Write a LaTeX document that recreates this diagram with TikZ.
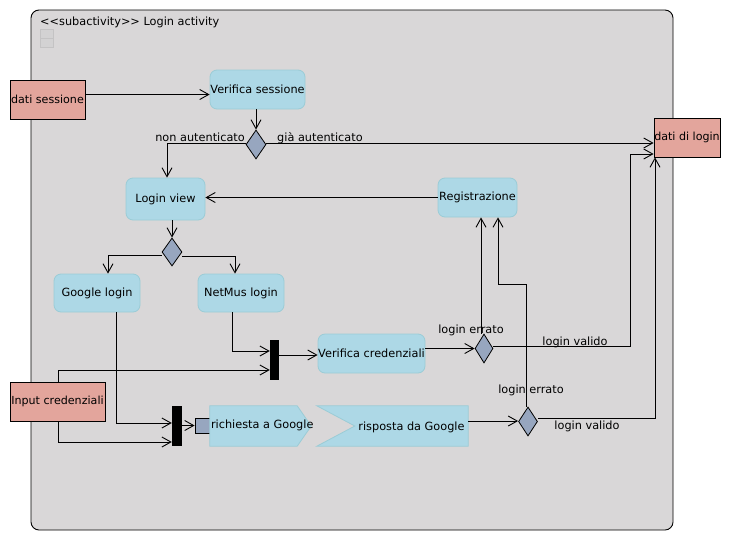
\documentclass[tikz,border=0pt]{standalone}
\usepackage{fontspec}
\setmainfont{DejaVu Sans}
\usetikzlibrary{arrows.meta,shapes.geometric,calc}
\definecolor{framebg}{RGB}{217,215,216}
\definecolor{salmon}{RGB}{227,165,156}
\definecolor{actfill}{RGB}{173,216,230}
\definecolor{actborder}{RGB}{155,204,214}
\definecolor{decfill}{RGB}{151,166,191}
\definecolor{tinyfill}{RGB}{211,210,211}
\definecolor{tinyborder}{RGB}{196,195,196}
\begin{document}
\begin{tikzpicture}[x=1pt,y=-1pt,
  font=\fontsize{11.3}{13}\selectfont,
  obj/.style={rectangle, draw=black, line width=0.8pt, fill=salmon, inner sep=0pt, font=\fontsize{11.1}{13}\selectfont},
  act/.style={rectangle, rounded corners=7pt, draw=actborder, line width=0.8pt, fill=actfill, inner sep=0pt},
  dec/.style={diamond, draw=black, line width=0.8pt, fill=decfill, inner sep=0pt},
  syncbar/.style={rectangle, fill=black, draw=none, inner sep=0pt},
  pinbox/.style={rectangle, draw=black, line width=0.8pt, fill=decfill, inner sep=0pt, minimum width=15pt, minimum height=15pt},
  sig/.style={draw=actborder, line width=0.8pt, fill=actfill},
  hidden/.style={rectangle, draw=none, inner sep=0pt},
  lbl/.style={inner sep=0pt},
  arr/.style={draw=black, line width=0.9pt, -{Straight Barb[length=9pt,width=10pt]}},
  tiny/.style={draw=tinyborder, fill=tinyfill, line width=0.6pt}
]
\useasboundingbox (0,0) rectangle (738,541);
% frame
\draw[fill=framebg, draw=black, line width=0.9pt, rounded corners=8pt] (31,10) rectangle (673,530);
\node[lbl, anchor=base west] (title) at (40,25.5) {<{}<subactivity>{}> Login activity};
\draw[tiny] (40,29) rectangle (53,38);
\draw[tiny] (40,38) rectangle (53,47);

% nodes
\node[obj, minimum width=75pt, minimum height=39pt] (ds) at (47.5,99.5) {dati sessione};
\node[act, minimum width=95pt, minimum height=39pt] (vs) at (257.5,89.5) {Verifica sessione};
\node[dec, minimum width=20pt, minimum height=29pt] (d1) at (256,144.5) {};
\node[obj, minimum width=66pt, minimum height=39pt] (dl) at (687,137.5) {dati di login};
\node[act, minimum width=79pt, minimum height=42pt] (lv) at (165.5,199) {Login view};
\node[act, minimum width=79pt, minimum height=39pt] (reg) at (477.5,197.5) {Registrazione};
\node[dec, minimum width=20pt, minimum height=28pt] (d2) at (172,252) {};
\node[act, minimum width=86pt, minimum height=38pt] (gl) at (97,293) {Google login};
\node[act, minimum width=86pt, minimum height=38pt] (nm) at (241,293) {NetMus login};
\node[syncbar, minimum width=9pt, minimum height=40pt] (b1) at (274.5,360) {};
\node[obj, minimum width=95pt, minimum height=39pt] (ic) at (57.5,401.5) {Input credenziali};
\node[act, minimum width=107pt, minimum height=39pt] (vc) at (371.5,353.5) {Verifica credenziali};
\node[dec, minimum width=18pt, minimum height=29pt] (d3) at (484,348.5) {};
\node[syncbar, minimum width=10pt, minimum height=40pt] (b2) at (177,426) {};
\node[pinbox] (pin) at (202.5,425.5) {};
% send signal
\node[hidden, minimum width=101pt, minimum height=40pt] (rq) at (260.5,426) {};
\draw[sig] (rq.north west) -- ([xshift=-14pt]rq.north east) -- (rq.east) -- ([xshift=-14pt]rq.south east) -- (rq.south west) -- cycle;
\node[lbl, anchor=west] (rqt) at ([xshift=1pt,yshift=1pt]rq.west) {richiesta a Google};
% receive signal
\node[hidden, minimum width=151pt, minimum height=40pt] (rs) at (392.5,426) {};
\draw[sig] (rs.north west) -- (rs.north east) -- (rs.south east) -- (rs.south west) -- ([xshift=38pt]rs.west) -- cycle;
\node[lbl] (rst) at (411.5,427) {risposta da Google};
\node[dec, minimum width=19pt, minimum height=29pt] (d4) at (528,421.5) {};

% free bend points
\coordinate (k1) at (630,154);
\coordinate (k2) at (498,284);

% connectors
\draw[arr] ([yshift=5pt]ds.east) coordinate (a1) -- (a1 -| vs.west);
\draw[arr] (d1.north |- vs.south) -- (d1.north);
\draw[arr] ([yshift=1.5pt]d1.west) -| ([xshift=1.5pt]lv.north);
\draw[arr] ([yshift=1.5pt]d1.east) coordinate (a2) -- (a2 -| dl.west);
\draw[arr] (reg.west) -- (reg.west -| lv.east);
\draw[arr] (d2.north |- lv.south) -- (d2.north);
\draw[arr] ([yshift=-3pt]d2.west) -| ([xshift=11pt]gl.north);
\draw[arr] ([yshift=-4pt]d2.east) -| ([xshift=-6pt]nm.north);
\draw[arr] ([xshift=-9pt]nm.south) |- ([yshift=9pt]b1.west);
\draw[arr] ([xshift=0.5pt]ic.north) |- ([yshift=-10pt]b1.west);
\draw[arr] ([yshift=5pt]b1.east) coordinate (a3) -- (a3 -| vc.west);
\draw[arr] (d3.west -| vc.east) -- (d3.west);
\draw[arr] ([xshift=-3pt]d3.north) coordinate (a4) -- (a4 |- reg.south);
\draw[arr] ([yshift=2.5pt]d3.east) -| (k1) -- (k1 -| dl.west);
\draw[arr] ([xshift=19pt]gl.south) |- ([yshift=3pt]b2.west);
\draw[arr] ([xshift=0.5pt]ic.south) |- ([yshift=-16pt]b2.west);
\draw[arr] (b2.east |- pin.west) -- (pin.west);
\draw[arr] ([yshift=5pt]rs.east) coordinate (a5) -- (a5 -| d4.west);
\draw[arr] ([xshift=-2pt]d4.north) |- (k2) -- (k2 |- reg.south);
\draw[arr] ([yshift=3.5pt]d4.east) -| ([xshift=-32pt]dl.south);

% labels
\node[lbl, anchor=base east] (l1) at (245,141) {non autenticato};
\node[lbl, anchor=base west] (l2) at (277,141) {già autenticato};
\node[lbl, anchor=base] (l3) at (471,333) {login errato};
\node[lbl, anchor=base] (l4) at (575,345) {login valido};
\node[lbl, anchor=base] (l5) at (531,393) {login errato};
\node[lbl, anchor=base] (l6) at (587,429.5) {login valido};
\end{tikzpicture}
\end{document}
